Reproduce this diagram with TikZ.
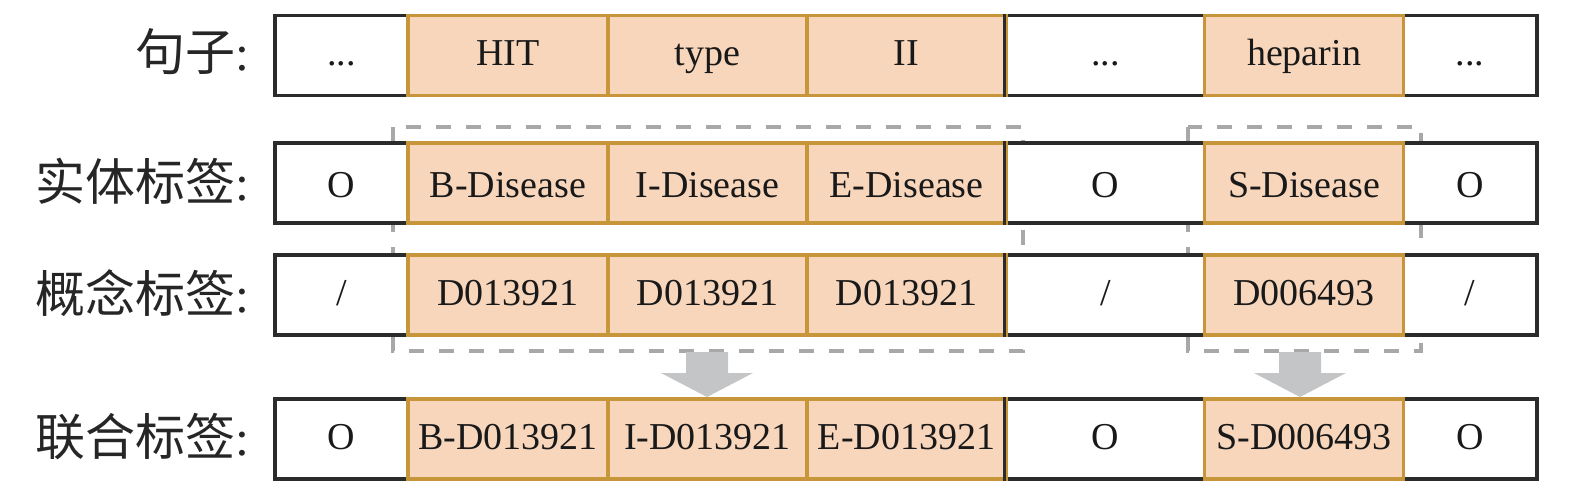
\documentclass[tikz,border=0pt]{standalone}
\usepackage{fontspec}
\setmainfont{Liberation Serif}
\newfontfamily\cjk{Noto Sans CJK SC}
\definecolor{gold}{HTML}{C8963A}
\definecolor{peach}{HTML}{F8D6BC}
\definecolor{dgrey}{HTML}{A8A8A8}
\definecolor{agrey}{HTML}{C4C5C7}
\definecolor{edge}{HTML}{2B2B2B}
\newcommand\cellrow[9]{%
  \node[cellw, minimum width=133pt] (#1-1) at (341.5,#2) {#3};
  \node[cellw, minimum width=199pt] (#1-5) at (1105.5,#2) {#7};
  \node[cellw, minimum width=134pt] (#1-7) at (1470,#2) {#9};
  \node[cellg, minimum width=200pt] (#1-2) at (508,#2) {#4};
  \node[cellg, minimum width=199pt] (#1-3) at (707.5,#2) {#5};
  \node[cellg, minimum width=199pt] (#1-6) at (1304,#2) {#8};
  \node[cellg, minimum width=199pt] (#1-4) at (906.5,#2) {#6};
  \draw[edge, line width=3.2pt] (#1-5.north west) -- (#1-5.south west);
}
\begin{document}
\begin{tikzpicture}[x=1pt,y=-1pt,
  txt/.style={text height=28pt, text depth=8pt},
  cellw/.style={draw=edge, line width=3.2pt, fill=white, minimum height=80pt,
    inner sep=0pt, font=\fontsize{38}{40}\selectfont, text=black!90, txt},
  cellg/.style={cellw, draw=gold, fill=peach},
  lab/.style={anchor=east, inner sep=0pt, font=\fontsize{50}{52}\selectfont, text=black!85},
  dbox/.style={draw=dgrey, line width=4pt, dash pattern=on 15pt off 15pt},
  bigarrow/.style={fill=agrey}]
\useasboundingbox (0,0) rectangle (1575,492);
% dashed groups
\draw[dbox] (393,127) rectangle (1023,351);
\draw[dbox] (1188,127) rectangle (1421,351);
% arrows
\fill[bigarrow] (686,352) -- (728,352) -- (728,373) -- (753,373) -- (707,397) -- (661,373) -- (686,373) -- cycle;
\fill[bigarrow] (1279,352) -- (1321,352) -- (1321,373) -- (1346,373) -- (1300,397) -- (1254,373) -- (1279,373) -- cycle;
% rows
\cellrow{s}{55.5}{...}{HIT}{type}{II}{...}{heparin}{...}
\begin{scope}[txt/.style={text height=32pt, text depth=4pt}]
\cellrow{e}{183}{O}{B-Disease}{I-Disease}{E-Disease}{O}{S-Disease}{O}
\end{scope}
\cellrow{c}{295}{/}{D013921}{D013921}{D013921}{/}{D006493}{/}
\cellrow{j}{439}{O}{B-D013921}{I-D013921}{E-D013921}{O}{S-D006493}{O}
% labels
\node[lab] (ls) at (250,52) {{\cjk 句子}:};
\node[lab] (le) at (250,181) {{\cjk 实体标签}:};
\node[lab] (lc) at (250,293) {{\cjk 概念标签}:};
\node[lab] (lj) at (250,437) {{\cjk 联合标签}:};
\end{tikzpicture}
\end{document}
